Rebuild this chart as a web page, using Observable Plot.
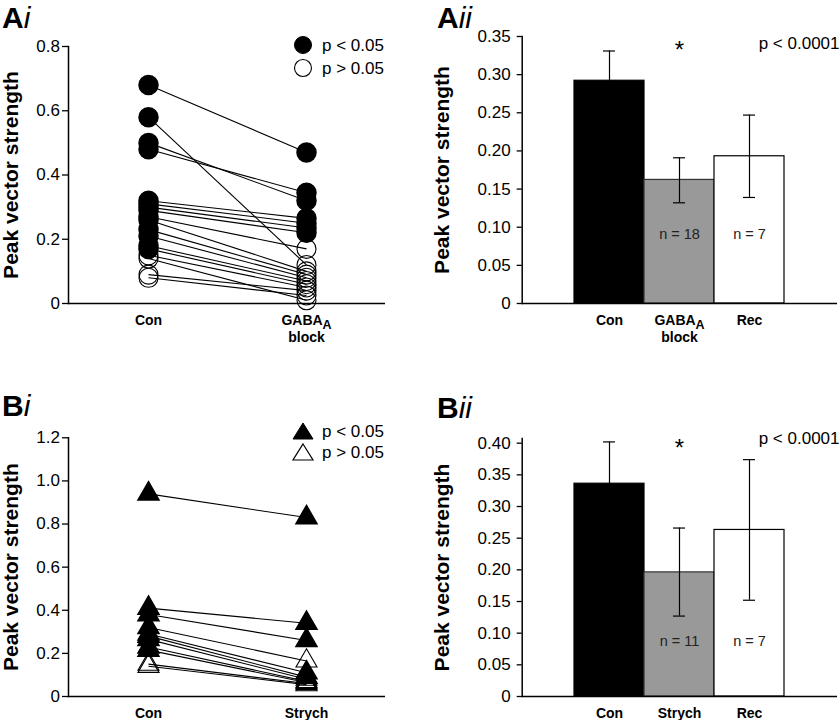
<!DOCTYPE html>
<html><head><meta charset="utf-8">
<script src="https://cdn.jsdelivr.net/npm/d3@7"></script>
<script src="https://cdn.jsdelivr.net/npm/@observablehq/plot@0.6"></script>
<style>
body{margin:0;background:#fff;font-family:"Liberation Sans",Arial,Helvetica,sans-serif;}
#wrap{position:relative;width:840px;height:720px;overflow:hidden;background:#fff;}
.panel{position:absolute;}
.plabel{position:absolute;font-size:30px;line-height:1;font-weight:bold;color:#000;}
.plabel i{font-weight:normal;}
.legend{position:absolute;overflow:visible;}
</style></head><body>
<div id="wrap">
  <div class="panel" id="ai" style="left:0;top:0"></div>
  <div class="panel" id="aii" style="left:420px;top:0"></div>
  <div class="panel" id="bi" style="left:0;top:360px"></div>
  <div class="panel" id="bii" style="left:420px;top:360px"></div>
  <div class="plabel" style="left:2px;top:3px">A<i>i</i></div>
  <div class="plabel" style="left:437px;top:3px">A<i>ii</i></div>
  <div class="plabel" style="left:2px;top:391px">B<i>i</i></div>
  <div class="plabel" style="left:437px;top:393px">B<i>ii</i></div>
  <svg class="legend" style="left:290px;top:30px" width="130" height="50" font-family="Liberation Sans, Arial, sans-serif" font-size="17">
    <circle cx="13" cy="15" r="8.5" fill="black" stroke="black"/>
    <text x="32" y="15" dominant-baseline="central">p &lt; 0.05</text>
    <circle cx="13" cy="38" r="8.5" fill="none" stroke="black" stroke-width="1.1"/>
    <text x="32" y="38" dominant-baseline="central">p &gt; 0.05</text>
  </svg>
  <svg class="legend" style="left:290px;top:420px" width="130" height="50" font-family="Liberation Sans, Arial, sans-serif" font-size="17">
    <path d="M13,3L23,19L3,19Z" fill="black" stroke="black"/>
    <text x="32" y="11" dominant-baseline="central">p &lt; 0.05</text>
    <path d="M13,24L23,40L3,40Z" fill="none" stroke="black" stroke-width="1.2"/>
    <text x="32" y="32" dominant-baseline="central">p &gt; 0.05</text>
  </svg>
</div>
<script>
// ---------- Panel Ai: paired values, Con vs GABAA block ----------
const aiCats = ["Con", "GABAA\nblock"];
const aiCon    = [0.68, 0.58, 0.50, 0.48, 0.32, 0.31, 0.30, 0.29, 0.27, 0.26, 0.23, 0.21, 0.18, 0.17, 0.15, 0.14, 0.09, 0.08];
const aiConSig = [1,    1,    1,    1,    1,    1,    1,    1,    1,    1,    1,    1,    1,    1,    0,    0,    0,    0];
const aiGaba    = [0.47, 0.12, 0.32, 0.345, 0.265, 0.25, 0.235, 0.22, 0.17, 0.10, 0.09, 0.08, 0.07, 0.06, 0.05, 0.01, 0.04, 0.025];
const aiGabaSig = [1,    0,    1,    1,     1,     1,    1,     1,    0,    0,    0,    0,    0,    0,    0,    0,    0,    0];
const aiTicks = [0, 0.2, 0.4, 0.6, 0.8];

// ---------- Panel Aii: means with error bars ----------
const aiiCats = ["Con", "GABAA\nblock", "Rec"];
const aiiMean = [0.292, 0.162, 0.193];
const aiiLo   = [0.253, 0.132, 0.139];
const aiiHi   = [0.331, 0.191, 0.247];
const aiiN    = ["", "n = 18", "n = 7"];
const aiiTicks = [0, 0.05, 0.10, 0.15, 0.20, 0.25, 0.30, 0.35];

// ---------- Panel Bi: paired values, Con vs Strych ----------
const biCats = ["Con", "Strych"];
const biCon    = [0.94, 0.41, 0.38, 0.32, 0.29, 0.28, 0.265, 0.23, 0.215, 0.15, 0.14];
const biConSig = [1,    1,    1,    1,    1,    1,    1,     1,    1,     0,    0];
const biStr    = [0.83, 0.34, 0.26, 0.165, 0.11, 0.09, 0.08, 0.07, 0.065, 0.06, 0.055];
const biStrSig = [1,    1,    1,    0,     1,    1,    0,    0,    0,     0,    0];
const biTicks = [0, 0.2, 0.4, 0.6, 0.8, 1.0, 1.2];

// ---------- Panel Bii: means with error bars ----------
const biiCats = ["Con", "Strych", "Rec"];
const biiMean = [0.336, 0.196, 0.263];
const biiLo   = [0.270, 0.127, 0.152];
const biiHi   = [0.402, 0.266, 0.374];
const biiN    = ["", "n = 11", "n = 7"];
const biiTicks = [0, 0.05, 0.10, 0.15, 0.20, 0.25, 0.30, 0.35, 0.40];

const barFill   = ["black", "#999999", "white"];
const barStroke = ["black", "#333333", "black"];
const yTitle = "Peak vector strength";
const pText = "p < 0.0001";

const FONT = '"Liberation Sans", Arial, Helvetica, sans-serif';
const fmt1 = d => d === 0 ? "0" : d.toFixed(1);
const fmt2 = d => d === 0 ? "0" : d.toFixed(2);

function pairedPlot({cats, left, leftSig, right, rightSig, ticks, domain, marginTop, marginBottom, symbol, r}) {
  const pts = [];
  left.forEach((v, i) => pts.push({x: cats[0], y: v, sig: leftSig[i]}));
  right.forEach((v, i) => pts.push({x: cats[1], y: v, sig: rightSig[i]}));
  const idx = left.map((_, i) => i);
  return Plot.plot({
    width: 420, height: 360,
    marginLeft: 68, marginRight: 35, marginTop, marginBottom,
    style: {fontFamily: FONT, background: "transparent", overflow: "visible", color: "black"},
    x: {type: "point", domain: cats, padding: 0.5},
    y: {domain},
    marks: [
      Plot.axisY({ticks, tickFormat: fmt1, tickSize: 6, tickPadding: 2.5, fontSize: 17, label: null, strokeWidth: 1.3}),
      Plot.axisX({tickSize: 0, tickPadding: 10, fontSize: 14, fontWeight: "bold", label: null, lineHeight: 1.2}),
      Plot.frame({anchor: "left", strokeWidth: 1.5}),
      Plot.ruleY([0], {strokeWidth: 1.5}),
      Plot.link(idx, {x1: () => cats[0], y1: i => left[i], x2: () => cats[1], y2: i => right[i], stroke: "black", strokeWidth: 1.1}),
      Plot.dot(pts.filter(d => !d.sig), {x: "x", y: "y", r, symbol, fill: "none", stroke: "black", strokeWidth: 1.1}),
      Plot.dot(pts.filter(d => d.sig), {x: "x", y: "y", r, symbol, fill: "black", stroke: "black"}),
      Plot.text([yTitle], {frameAnchor: "left", textAnchor: "middle", rotate: -90, dx: -65.5, lineAnchor: "top", fontSize: 21, fontWeight: "bold"})
    ]
  });
}

function barPlot({cats, mean, lo, hi, nLabels, ticks, domain, marginTop, marginBottom, nDy, starDy, pDy}) {
  const idx = cats.map((_, i) => i);
  const caps = idx.flatMap(i => [{c: cats[i], v: lo[i]}, {c: cats[i], v: hi[i]}]);
  return Plot.plot({
    width: 420, height: 360,
    marginLeft: 101.7, marginRight: 3, marginTop, marginBottom,
    style: {fontFamily: FONT, background: "transparent", overflow: "visible", color: "black"},
    x: {type: "band", domain: cats, paddingInner: 0, paddingOuter: 0.75},
    y: {domain},
    color: {type: "identity"},
    marks: [
      Plot.barY(idx, {x: i => cats[i], y: i => mean[i], fill: i => barFill[i], stroke: i => barStroke[i], strokeWidth: 1.2}),
      Plot.ruleX(idx, {x: i => cats[i], y1: i => lo[i], y2: i => hi[i], stroke: "black", strokeWidth: 1.2}),
      Plot.tickY(caps, {x: "c", y: "v", insetLeft: 29, insetRight: 29, stroke: "black", strokeWidth: 1.2}),
      Plot.axisY({ticks, tickFormat: fmt2, tickSize: 5, tickPadding: 6.5, fontSize: 17, label: null, strokeWidth: 1.3}),
      Plot.axisX({tickSize: 0, tickPadding: 10, fontSize: 14, fontWeight: "bold", label: null, lineHeight: 1.2}),
      Plot.frame({anchor: "left", strokeWidth: 1.5}),
      Plot.ruleY([0], {strokeWidth: 1.5}),
      Plot.text(idx.filter(i => nLabels[i]), {x: i => cats[i], text: i => nLabels[i], frameAnchor: "bottom", dy: nDy, fontSize: 14.5, fill: "#222"}),
      Plot.text([cats[1]], {x: d => d, text: () => "*", frameAnchor: "top", dy: starDy, fontSize: 24}),
      Plot.text([pText], {frameAnchor: "top-right", textAnchor: "end", dx: 2, dy: pDy, fontSize: 17}),
      Plot.text([yTitle], {frameAnchor: "left", textAnchor: "middle", rotate: -90, dx: -87.7, lineAnchor: "top", fontSize: 21, fontWeight: "bold"})
    ]
  });
}

function subscriptA(svg) {
  const ns = "http://www.w3.org/2000/svg";
  svg.querySelectorAll("text, tspan").forEach(el => {
    for (const node of Array.from(el.childNodes)) {
      if (node.nodeType === 3 && node.nodeValue.includes("GABAA")) {
        const parts = node.nodeValue.split("GABAA");
        const frag = document.createDocumentFragment();
        parts.forEach((p, i) => {
          if (p) frag.appendChild(document.createTextNode(p));
          if (i < parts.length - 1) {
            frag.appendChild(document.createTextNode("GABA"));
            const s = document.createElementNS(ns, "tspan");
            s.setAttribute("baseline-shift", "-4");
            s.setAttribute("font-size", "12.5");
            s.textContent = "A";
            frag.appendChild(s);
          }
        });
        el.replaceChild(frag, node);
      }
    }
  });
  return svg;
}

document.getElementById("ai").appendChild(subscriptA(pairedPlot({
  cats: aiCats, left: aiCon, leftSig: aiConSig, right: aiGaba, rightSig: aiGabaSig,
  ticks: aiTicks, domain: [0, 0.8], marginTop: 46, marginBottom: 57, symbol: "circle", r: 9.5
})));
document.getElementById("aii").appendChild(subscriptA(barPlot({
  cats: aiiCats, mean: aiiMean, lo: aiiLo, hi: aiiHi, nLabels: aiiN,
  ticks: aiiTicks, domain: [0, 0.35], marginTop: 36, marginBottom: 57, nDy: -65, starDy: 4, pDy: 0
})));
document.getElementById("bi").appendChild(pairedPlot({
  cats: biCats, left: biCon, leftSig: biConSig, right: biStr, rightSig: biStrSig,
  ticks: biTicks, domain: [0, 1.2], marginTop: 77.3, marginBottom: 24, symbol: "triangle", r: 7.8
}));
document.getElementById("bii").appendChild(barPlot({
  cats: biiCats, mean: biiMean, lo: biiLo, hi: biiHi, nLabels: biiN,
  ticks: biiTicks, domain: [0, 0.4074], marginTop: 78, marginBottom: 24, nDy: -51, starDy: 0, pDy: -7
}));
</script>
</body></html>
